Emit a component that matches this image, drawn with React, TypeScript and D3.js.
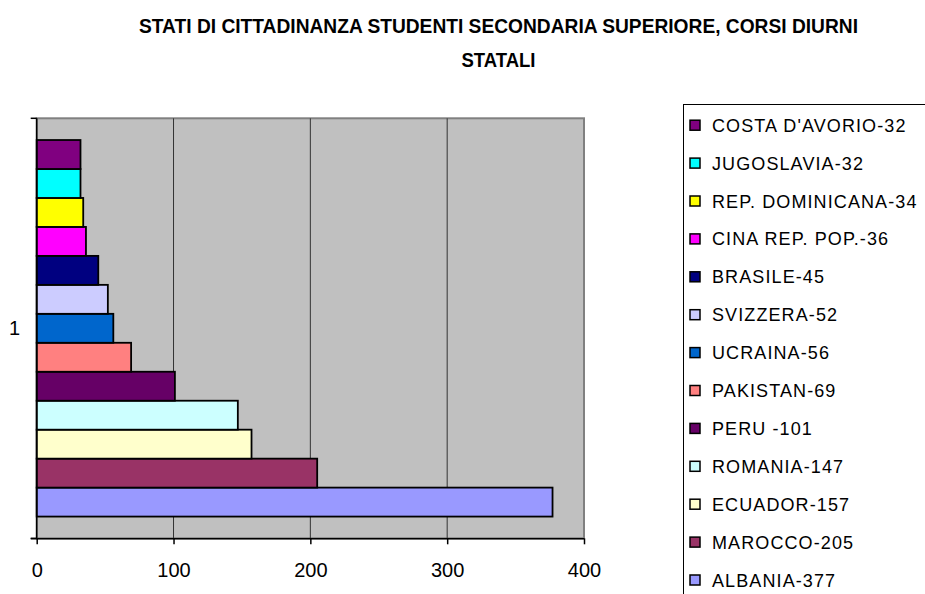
import React, { useRef, useEffect } from 'react';
import * as d3 from 'd3';

// series, in the order Excel plots them (first = bottom bar)
const countries = [
  'ALBANIA', 'MAROCCO', 'ECUADOR', 'ROMANIA', 'PERU ', 'PAKISTAN', 'UCRAINA',
  'SVIZZERA', 'BRASILE', 'CINA REP. POP.', 'REP. DOMINICANA', 'JUGOSLAVIA', "COSTA D'AVORIO",
];
const values = [377, 205, 157, 147, 101, 69, 56, 52, 45, 36, 34, 32, 32];
const colors = [
  '#9999FF', '#993366', '#FFFFCC', '#CCFFFF', '#660066', '#FF8080', '#0066CC',
  '#CCCCFF', '#000080', '#FF00FF', '#FFFF00', '#00FFFF', '#800080',
];
const categories = ['1'];
const xTicks = [0, 100, 200, 300, 400];
const titleLines = [
  'STATI DI CITTADINANZA STUDENTI SECONDARIA SUPERIORE, CORSI DIURNI',
  'STATALI',
];

const W = 925;
const H = 594;

const App: React.FC = () => {
  const svgRef = useRef<SVGSVGElement>(null);

  useEffect(() => {
    if (!svgRef.current) return;
    const svg = d3.select(svgRef.current);
    svg.selectAll('*').remove();

    const left = 36.7, right = 584, top = 118.3, bottom = 538.3;

    const x = d3.scaleLinear().domain([0, 400]).range([left, right]);
    // excel gap width 150% -> 0.75 bar on each side of the group
    const outer = 0.75 / countries.length;
    const y = d3.scaleBand<string>().domain(categories).range([top, bottom]).paddingInner(0).paddingOuter(outer);
    const ySeries = d3.scaleBand<string>()
      .domain(countries.map((_, i) => String(i)).reverse())
      .range([0, y.bandwidth()]);

    // title
    svg.append('g')
      .selectAll('text')
      .data(titleLines)
      .join('text')
      .attr('x', 498.5)
      .attr('y', (_, i) => 33 + i * 34)
      .attr('text-anchor', 'middle')
      .attr('textLength', (_, i) => (i === 0 ? 719 : 74))
      .attr('lengthAdjust', 'spacingAndGlyphs')
      .style('font-family', '"Liberation Sans Narrow", "Arial Narrow", "Liberation Sans", Arial, sans-serif')
      .style('font-weight', 'bold')
      .style('font-size', '20px')
      .style('fill', '#000')
      .text(d => d);

    // plot area
    svg.append('rect')
      .attr('x', left)
      .attr('y', top)
      .attr('width', right - left)
      .attr('height', bottom - top)
      .attr('fill', '#C0C0C0')
      .attr('stroke', '#808080')
      .attr('stroke-width', 2);

    // gridlines
    svg.append('g')
      .selectAll('line')
      .data(xTicks.slice(1, -1))
      .join('line')
      .attr('x1', d => x(d))
      .attr('x2', d => x(d))
      .attr('y1', top)
      .attr('y2', bottom)
      .attr('stroke', '#333')
      .attr('stroke-width', 1);

    // bars
    svg.append('g')
      .selectAll('rect')
      .data(values)
      .join('rect')
      .attr('x', x(0))
      .attr('y', (_, i) => (y('1') as number) + (ySeries(String(i)) as number))
      .attr('width', d => x(d) - x(0))
      .attr('height', ySeries.bandwidth())
      .attr('fill', (_, i) => colors[i])
      .attr('stroke', '#000')
      .attr('stroke-width', 1.8);

    // axes
    const xAxis = svg.append('g').attr('transform', `translate(0,${bottom})`)
      .call(d3.axisBottom(x).tickValues(xTicks).tickSize(6).tickPadding(15).tickFormat(d3.format('d')));
    xAxis.select('.domain').attr('d', `M${left - 6},0.5H${right}`).attr('stroke', '#000').attr('stroke-width', 1.5);
    xAxis.selectAll('.tick line').attr('stroke', '#000').attr('stroke-width', 1.5);
    xAxis.selectAll('.tick text')
      .attr('dy', null)
      .attr('y', 39)
      .style('font-family', '"Liberation Sans", Arial, sans-serif')
      .style('font-size', '20px')
      .style('fill', '#000');

    const yAxis = svg.append('g');
    yAxis.append('line')
      .attr('x1', left).attr('x2', left)
      .attr('y1', top).attr('y2', bottom)
      .attr('stroke', '#000').attr('stroke-width', 1.5);
    yAxis.selectAll('line.tk')
      .data([top, bottom])
      .join('line')
      .attr('class', 'tk')
      .attr('x1', left - 6).attr('x2', left)
      .attr('y1', d => d).attr('y2', d => d)
      .attr('stroke', '#000').attr('stroke-width', 1.5);
    yAxis.selectAll('text')
      .data(categories)
      .join('text')
      .attr('x', 14.5)
      .attr('y', d => (y(d) as number) + y.bandwidth() / 2 + 7)
      .attr('text-anchor', 'middle')
      .style('font-family', '"Liberation Sans", Arial, sans-serif')
      .style('font-size', '20px')
      .style('fill', '#000')
      .text(d => d);

    // legend, last series on top
    const legend = svg.append('g');
    legend.append('rect')
      .attr('x', 683.5)
      .attr('y', 104.5)
      .attr('width', 260)
      .attr('height', 520)
      .attr('fill', '#fff')
      .attr('stroke', '#000')
      .attr('stroke-width', 1);
    const order = d3.range(countries.length).reverse();
    const item = legend.selectAll('g.item')
      .data(order)
      .join('g')
      .attr('class', 'item')
      .attr('transform', (_, k) => `translate(0,${131.7 + k * 37.9})`);
    item.append('rect')
      .attr('x', 690)
      .attr('y', -11.5)
      .attr('width', 10)
      .attr('height', 10)
      .attr('fill', i => colors[i])
      .attr('stroke', '#000')
      .attr('stroke-width', 1.5);
    item.append('text')
      .attr('x', 712)
      .attr('y', 0)
      .style('font-family', '"Liberation Sans", Arial, sans-serif')
      .style('font-size', '18px')
      .style('letter-spacing', '1.1px')
      .style('fill', '#000')
      .text(i => `${countries[i]}-${values[i]}`);
  }, []);

  return (
    <svg
      ref={svgRef}
      width={W}
      height={H}
      style={{ position: 'absolute', left: 0, top: 0, background: '#fff' }}
    />
  );
};

export default App;
